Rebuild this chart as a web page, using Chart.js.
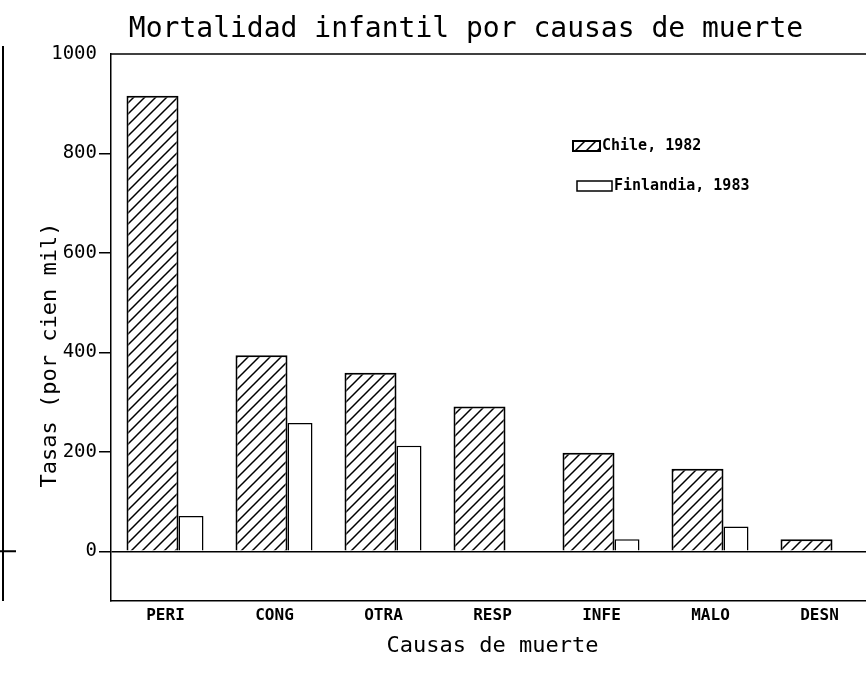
<!DOCTYPE html>
<html>
<head>
<meta charset="utf-8">
<script src="https://cdn.jsdelivr.net/npm/chart.js@4/dist/chart.umd.min.js"></script>
<style>
  html, body { margin: 0; padding: 0; background: #fff; overflow: hidden; width: 866px; height: 678px; }
  canvas { display: block; }
</style>
</head>
<body>
<canvas id="chart" width="880" height="678"></canvas>
<script>
const categories = ["PERI", "CONG", "OTRA", "RESP", "INFE", "MALO", "DESN"];
const chile1982 = [916, 394, 359, 291, 198, 166, 24];
const finlandia1983 = [71, 258, 212, null, 24, 50, null];
const seriesNames = ["Chile, 1982", "Finlandia, 1983"];
const yTicks = [0, 200, 400, 600, 800, 1000];

const mono = "'DejaVu Sans Mono', 'Liberation Mono', monospace";
const canvas = document.getElementById("chart");
const ctx = canvas.getContext("2d");

// diagonal hatch like the plotter fill
function makeHatch() {
    const s = 11;
    const c = document.createElement("canvas");
    c.width = s; c.height = s;
    const g = c.getContext("2d");
    g.fillStyle = "#fff";
    g.fillRect(0, 0, s, s);
    g.strokeStyle = "#000";
    g.lineWidth = 1.5;
    g.beginPath();
    g.moveTo(-1, s + 1); g.lineTo(s + 1, -1);
    g.moveTo(-1, 1); g.lineTo(1, -1);
    g.moveTo(s - 1, s + 1); g.lineTo(s + 1, s - 1);
    g.stroke();
    return ctx.createPattern(c, "repeat");
}
const hatch = makeHatch();

const decor = {
    id: "decor",
    afterDraw(chart) {
        const c = chart.ctx;
        const a = chart.chartArea;
        c.save();
        // top edge of the frame
        c.strokeStyle = "#000";
        c.lineWidth = 1.5;
        c.beginPath();
        c.moveTo(a.left, a.top);
        c.lineTo(a.right, a.top);
        c.stroke();

        // edge of the neighbouring figure on the scan
        const y0 = chart.scales.y.getPixelForValue(0);
        c.lineWidth = 2;
        c.beginPath();
        c.moveTo(3, a.top - 8); c.lineTo(3, a.bottom);
        c.moveTo(0, y0); c.lineTo(16, y0);
        c.stroke();

        c.fillStyle = "#000";
        // main title
        c.font = "28px " + mono;
        c.textAlign = "center";
        c.textBaseline = "middle";
        c.fillText("Mortalidad infantil por causas de muerte", 466, 30);

        // y axis title
        c.save();
        c.translate(50, 355);
        c.rotate(-Math.PI / 2);
        c.font = "22px " + mono;
        c.fillText("Tasas (por cien mil)", 0, 0);
        c.restore();

        // legend
        const rows = [
            { x: 573, y: 146, w: 27 },
            { x: 577, y: 186, w: 35 }
        ];
        chart.data.datasets.forEach((ds, i) => {
            const r = rows[i];
            c.fillStyle = ds.backgroundColor;
            c.fillRect(r.x, r.y - 5, r.w, 10);
            c.strokeStyle = "#000";
            c.lineWidth = i === 0 ? 2 : 1.5;
            c.strokeRect(r.x, r.y - 5, r.w, 10);
            c.fillStyle = "#000";
            c.font = "bold 15px " + mono;
            c.textAlign = "left";
            c.fillText(ds.label, r.x + r.w + 2, r.y);
        });
        c.restore();
    }
};

new Chart(ctx, {
    type: "bar",
    data: {
        labels: categories,
        datasets: [{
            label: seriesNames[0],
            data: chile1982,
            backgroundColor: hatch,
            borderColor: "#000",
            borderWidth: 2,
            categoryPercentage: 52 / 109,
            barPercentage: 2
        }, {
            label: seriesNames[1],
            data: finlandia1983,
            backgroundColor: "#fff",
            borderColor: "#000",
            borderWidth: 1.5,
            categoryPercentage: 102 / 109,
            barPercentage: 0.49
        }]
    },
    options: {
        responsive: false,
        animation: false,
        devicePixelRatio: 1,
        layout: { padding: { top: 54, right: 6, left: 0, bottom: 0 } },
        plugins: {
            legend: { display: false },
            tooltip: { enabled: false }
        },
        scales: {
            x: {
                grid: { display: false, drawTicks: false },
                border: { display: true, color: "#000", width: 1.5 },
                ticks: {
                    color: "#000",
                    padding: 5,
                    font: { family: mono, size: 16, weight: "bold" }
                },
                title: {
                    display: true,
                    text: "Causas de muerte",
                    color: "#000",
                    font: { family: mono, size: 22, lineHeight: 1 },
                    padding: { top: 0, bottom: 21 }
                },
                afterFit(scale) { scale.height = 77; }
            },
            y: {
                min: -100,
                max: 1000,
                afterBuildTicks(scale) {
                    scale.ticks = yTicks.map(v => ({ value: v }));
                },
                grid: {
                    drawOnChartArea: true,
                    tickLength: 12,
                    lineWidth: 1.5,
                    color: c => (c.tick && c.tick.value === 0 ? "#000" : "rgba(0,0,0,0)"),
                    tickColor: c => (c.tick && c.tick.value < 1000 ? "#000" : "rgba(0,0,0,0)")
                },
                border: { display: true, color: "#000", width: 1.5 },
                ticks: {
                    color: "#000",
                    padding: 2,
                    font: { family: mono, size: 19 },
                    callback: v => String(v)
                },
                afterFit(scale) { scale.width = 111; }
            }
        }
    },
    plugins: [decor]
});
</script>
</body>
</html>
